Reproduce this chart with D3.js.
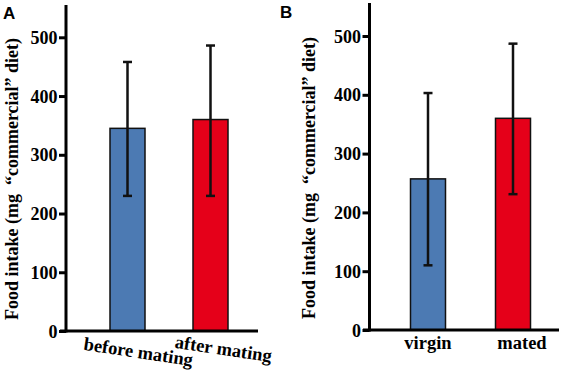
<!DOCTYPE html>
<html><head><meta charset="utf-8">
<script src="https://cdn.jsdelivr.net/npm/d3@7"></script>
<style>body{margin:0;background:#fff}</style>
</head><body>
<svg id="c" width="565" height="375"></svg>
<script>
const catsA = ["before mating", "after mating"];
const meansA = [345, 360];
const lowA = [230, 230];
const highA = [458, 486];
const catsB = ["virgin", "mated"];
const meansB = [257, 360];
const lowB = [110, 231];
const highB = [403, 487];
const yTicks = [0, 100, 200, 300, 400, 500];
const barColors = ["#4c7ab3", "#e50019"];
const yLabel = "Food intake (mg  \u201ccommercial\u201d diet)";

const svg = d3.select("#c");
const serif = "'Liberation Serif', 'Times New Roman', serif";

function panel(opts) {
  const g = svg.append("g");
  const y = d3.scaleLinear().domain([0, 500]).range([opts.y0, opts.y500]);
  const x = d3.scalePoint().domain(opts.cats).range(opts.xr);
  const bw = 35;
  g.selectAll("rect.bar").data(opts.cats).join("rect")
    .attr("x", d => x(d) - bw / 2)
    .attr("y", (d, i) => y(opts.means[i]))
    .attr("width", bw)
    .attr("height", (d, i) => y(0) - y(opts.means[i]))
    .attr("fill", (d, i) => barColors[i])
    .attr("stroke", "#111").attr("stroke-width", 1.5);
  const eg = g.selectAll("g.err").data(opts.cats).join("g");
  eg.append("line")
    .attr("x1", d => x(d)).attr("x2", d => x(d))
    .attr("y1", (d, i) => y(opts.low[i])).attr("y2", (d, i) => y(opts.high[i]))
    .attr("stroke", "#111").attr("stroke-width", 2.5);
  [opts.low, opts.high].forEach(arr => {
    eg.append("line")
      .attr("x1", d => x(d) - 4.5).attr("x2", d => x(d) + 4.5)
      .attr("y1", (d, i) => y(arr[i])).attr("y2", (d, i) => y(arr[i]))
      .attr("stroke", "#111").attr("stroke-width", 2.5);
  });
  const ax = g.append("g").attr("transform", `translate(${opts.ax},0)`)
    .call(d3.axisLeft(y).tickValues(yTicks).tickSize(7).tickPadding(1.5).tickFormat(d3.format("d")));
  ax.select(".domain").remove();
  ax.selectAll(".tick line").attr("stroke", "#000").attr("stroke-width", 3);
  ax.selectAll(".tick text").attr("font-family", serif).attr("font-weight", "bold")
    .attr("font-size", 18).attr("fill", "#000").attr("dy", "0.34em");
  g.append("line").attr("x1", opts.ax).attr("x2", opts.ax)
    .attr("y1", opts.top).attr("y2", opts.y0 + 1.5)
    .attr("stroke", "#000").attr("stroke-width", 3);
  g.append("line").attr("x1", opts.xl).attr("x2", opts.xrr)
    .attr("y1", opts.y0).attr("y2", opts.y0)
    .attr("stroke", "#000").attr("stroke-width", 3);
  g.append("text").attr("transform", `translate(${opts.lx},${opts.ly}) rotate(-90)`)
    .attr("text-anchor", "middle").attr("font-family", serif).attr("font-weight", "bold")
    .attr("font-size", 18).attr("fill", "#000").style("white-space", "pre").text(yLabel);
  g.append("text").attr("x", opts.px).attr("y", opts.py)
    .attr("font-family", "'Liberation Sans', Arial, sans-serif").attr("font-weight", "bold")
    .attr("font-size", 17).attr("fill", "#000").text(opts.letter);
  return {g, x, y};
}

const A = panel({cats: catsA, means: meansA, low: lowA, high: highA,
  y0: 331, y500: 37.3, xr: [127.5, 210.5], ax: 66, top: 5, xl: 60, xrr: 258,
  lx: 17.5, ly: 179, px: 3, py: 18.5, letter: "A"});
A.g.selectAll("text.xl").data(catsA).join("text").attr("class", "xl")
  .attr("transform", (d, i) => `translate(${A.x(d) + (i === 0 ? 10 : 12)},${i === 0 ? 358 : 355}) rotate(8.5)`)
  .attr("text-anchor", "middle").attr("font-family", serif).attr("font-weight", "bold")
  .attr("font-size", 18.5).attr("fill", "#000").text(d => d);

const B = panel({cats: catsB, means: meansB, low: lowB, high: highB,
  y0: 330, y500: 36, xr: [428, 513], ax: 369.5, top: 3, xl: 363, xrr: 559,
  lx: 314.5, ly: 178, px: 280, py: 17.5, letter: "B"});
B.g.selectAll("text.xl").data(catsB).join("text").attr("class", "xl")
  .attr("x", (d, i) => B.x(d) + (i === 0 ? 0 : 9)).attr("y", 349)
  .attr("text-anchor", "middle").attr("font-family", serif).attr("font-weight", "bold")
  .attr("font-size", 18.5).attr("fill", "#000").text(d => d);
</script>
</body></html>
